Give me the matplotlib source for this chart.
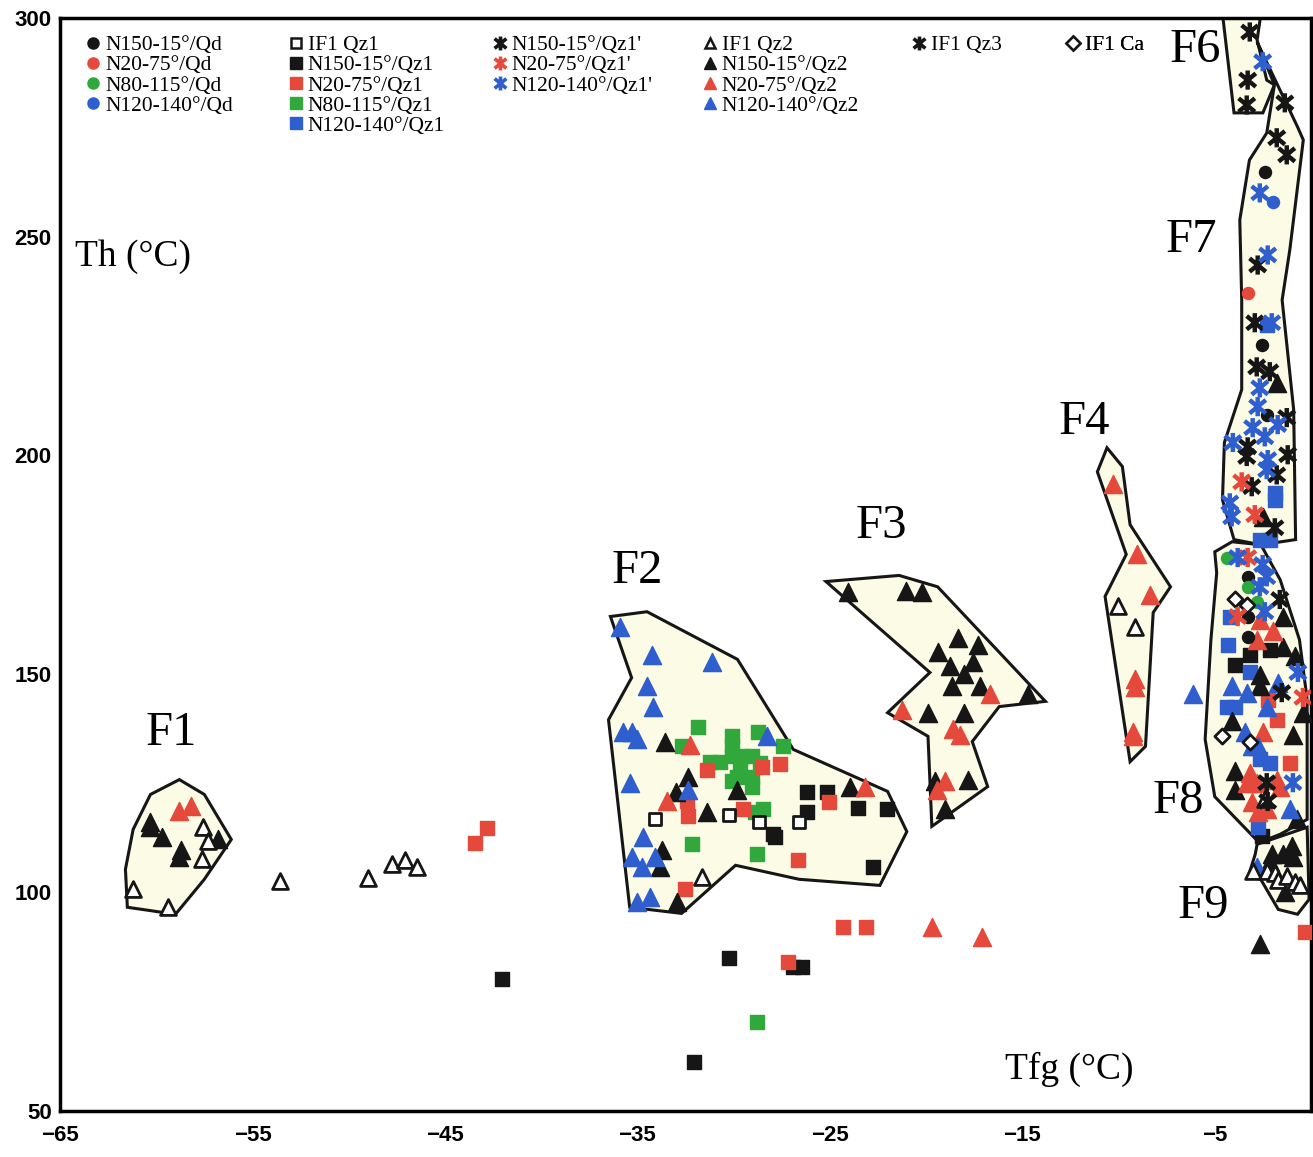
import matplotlib
matplotlib.use("Agg")
import matplotlib.pyplot as plt
from matplotlib.path import Path
from matplotlib.patches import Polygon
from matplotlib.lines import Line2D

BLACK = "#161616"
RED = "#e5493c"
GREEN = "#31a83b"
BLUE = "#2f5ecf"
CREAM = "#fcfbe6"

# field outlines (Tfg, Th)
f1_outline = [(-58.8, 125.8), (-57.5, 122.4), (-56.1, 112.1), (-57.5, 103.0), (-59.0, 95.0),
              (-61.5, 96.6), (-61.6, 105.3), (-61.2, 114.4), (-60.3, 122.4)]
f2_outline = [(-36.4, 163.1), (-34.5, 164.2), (-29.8, 153.3), (-26.9, 132.7), (-22.0, 123.1),
              (-21.0, 113.9), (-22.4, 101.6), (-26.6, 103.0), (-29.9, 106.2), (-32.7, 95.2),
              (-35.4, 96.6), (-36.5, 139.5), (-35.3, 149.1)]
f3_outline = [(-25.2, 171.1), (-21.4, 172.5), (-19.4, 169.9), (-13.8, 143.7), (-16.2, 142.5),
              (-17.6, 134.5), (-16.8, 124.2), (-19.7, 115.1), (-19.9, 135.7), (-22.0, 141.1),
              (-19.8, 150.3)]
f4_outline = [(-10.6, 201.7), (-9.8, 197.4), (-9.4, 184.1), (-7.3, 169.9), (-8.2, 164.0),
              (-8.6, 133.4), (-9.4, 129.9), (-10.7, 167.7), (-9.6, 177.3), (-11.1, 196.2)]
f6_outline = [(-4.6, 301.0), (-2.6, 301.0), (-2.8, 295.0), (-2.3, 285.8), (-1.9, 284.7),
              (-2.5, 278.3), (-4.0, 278.3)]
f7_outline = [(-2.8, 294.5), (-0.7, 275.1), (-0.4, 272.1), (-1.1, 247.0), (-1.5, 235.5),
              (-0.9, 210.4), (-0.8, 180.7), (-2.6, 179.5), (-4.0, 180.7), (-4.6, 189.8),
              (-4.5, 202.9), (-3.6, 215.0), (-3.6, 235.5), (-3.7, 253.8), (-3.2, 267.5),
              (-2.3, 273.7), (-1.9, 284.7)]
f8_outline = [(-5.0, 177.9), (-4.1, 180.2), (-2.6, 179.5), (-1.6, 171.5), (-0.6, 157.8),
              (-0.2, 144.1), (-0.2, 116.7), (-1.6, 113.3), (-2.7, 111.4), (-5.0, 121.9),
              (-5.5, 135.0), (-5.2, 157.8), (-4.9, 173.1)]
f9_outline = [(-2.8, 111.0), (-0.2, 114.9), (-0.1, 98.4), (-0.7, 95.0), (-1.7, 96.1),
              (-2.6, 102.9), (-3.2, 104.5), (-2.9, 108.7)]

field_names = ["F1", "F2", "F3", "F4", "F6", "F7", "F8", "F9"]
field_label_pos = [(-59.2, 136.5), (-35.0, 173.4), (-22.3, 183.7), (-11.8, 207.7),
                   (-6.0, 292.7), (-6.2, 249.3), (-6.9, 120.8), (-5.6, 96.8)]

# Qd (circles)
qd_black = [(-2.4, 264.8), (-2.56, 225.3), (-2.3, 209.3), (-3.29, 172.2), (-3.29, 162.9), (-3.29, 158.5)]
qd_red = [(-3.29, 237.1)]
qd_green = [(-4.38, 176.6), (-3.29, 169.9), (-2.82, 166.5)]
qd_blue = [(-1.99, 257.9)]

# Qz1 (squares)
qz1_open = [(-34.09, 116.7), (-30.25, 117.8), (-28.69, 116.0), (-26.61, 116.0)]
qz1_black = [(-26.19, 122.9), (-25.16, 122.9), (-26.19, 118.5), (-23.55, 119.4), (-22.04, 119.0),
             (-27.96, 113.3), (-27.86, 112.6), (-22.77, 105.7), (-42.04, 80.1), (-30.25, 85.1),
             (-26.92, 82.9), (-26.45, 82.9), (-32.06, 61.1), (-3.18, 154.4), (-3.96, 152.1),
             (-2.56, 112.8), (-2.14, 155.5)]
qz1_red = [(-31.39, 128.1), (-28.53, 128.6), (-27.6, 129.3), (-32.43, 120.8), (-32.38, 117.4),
           (-29.52, 119.0), (-25.05, 120.6), (-26.66, 107.5), (-32.53, 100.7), (-43.44, 111.4),
           (-42.82, 114.7), (-24.32, 92.2), (-23.13, 92.2), (-27.18, 84.0), (-2.25, 144.1),
           (-1.78, 139.5), (-1.1, 129.7), (-0.32, 90.9)]
qz1_green = [(-31.86, 137.9), (-28.74, 136.6), (-27.44, 133.6), (-32.69, 133.4), (-30.09, 135.7),
             (-30.09, 133.4), (-30.09, 131.1), (-31.23, 129.9), (-30.71, 129.9), (-29.57, 131.1),
             (-29.05, 131.1), (-28.64, 129.7), (-29.68, 128.8), (-29.83, 126.5), (-29.05, 126.5),
             (-29.05, 124.2), (-30.09, 125.4), (-28.9, 118.3), (-28.48, 119.0), (-32.17, 111.0),
             (-28.79, 108.7), (-28.79, 70.3)]
qz1_blue = [(-2.3, 229.8), (-1.88, 191.4), (-1.88, 189.8), (-2.66, 180.7), (-2.14, 180.7),
            (-4.22, 163.1), (-4.32, 156.7), (-3.18, 150.3), (-4.38, 142.5), (-3.96, 142.3),
            (-2.66, 130.4), (-2.14, 129.7), (-2.77, 114.9)]

# Qz1' (asterisks)
qz1p_black = [(-1.36, 280.6), (-1.78, 272.6), (-1.26, 268.7), (-2.77, 243.5), (-2.92, 230.3),
              (-2.82, 220.2), (-2.14, 219.1), (-1.26, 208.6), (-3.29, 201.9), (-3.34, 199.7),
              (-1.21, 200.1), (-1.78, 195.5), (-3.08, 192.8), (-1.88, 183.4), (-1.62, 167.0),
              (-1.52, 145.7), (-2.3, 125.1), (-2.25, 120.8)]
qz1p_red = [(-3.6, 193.9), (-2.92, 186.4), (-3.29, 176.6), (-3.81, 163.1), (-0.42, 144.6)]
qz1p_blue = [(-2.51, 290.0), (-2.66, 260.0), (-2.25, 245.8), (-2.04, 230.3), (-2.66, 215.4),
             (-2.77, 211.1), (-1.73, 207.0), (-3.03, 206.3), (-2.4, 204.2), (-4.06, 202.9),
             (-2.25, 199.0), (-2.3, 196.7), (-4.22, 189.1), (-4.12, 185.9), (-3.81, 176.6),
             (-2.51, 175.0), (-2.3, 172.2), (-2.66, 169.9), (-2.4, 164.2), (-0.68, 150.3),
             (-0.94, 125.1)]

# Qz2 (triangles)
qz2_open = [(-57.57, 114.9), (-57.31, 111.7), (-57.62, 107.6), (-61.21, 100.7), (-59.39, 96.6),
            (-53.57, 102.5), (-49.0, 103.4), (-47.75, 106.4), (-47.08, 107.5), (-46.45, 105.7),
            (-31.65, 103.6), (-10.04, 165.4), (-9.16, 160.6), (-2.4, 121.3), (-3.03, 104.8),
            (-2.3, 104.8), (-1.88, 104.5), (-1.73, 102.9), (-1.26, 103.7), (-0.84, 102.3),
            (-0.58, 101.8)]
qz2_black = [(-60.3, 116.0), (-60.3, 114.9), (-59.7, 112.6), (-56.8, 112.1), (-58.7, 109.8),
             (-58.8, 108.2), (-33.57, 134.3), (-32.38, 126.5), (-33.0, 122.9), (-31.39, 118.5),
             (-29.83, 123.5), (-23.96, 124.0), (-33.73, 109.8), (-33.83, 105.9), (-32.95, 97.7),
             (-24.06, 168.6), (-21.05, 169.0), (-20.22, 168.6), (-18.35, 158.3), (-17.31, 156.7),
             (-19.39, 154.9), (-17.57, 152.8), (-18.77, 151.7), (-18.04, 149.9), (-18.66, 147.1),
             (-17.21, 147.1), (-14.71, 145.3), (-19.91, 141.1), (-18.04, 141.1), (-17.83, 125.8),
             (-19.55, 125.4), (-19.03, 119.0), (-1.78, 216.6), (-2.51, 185.9), (-2.66, 149.8),
             (-2.66, 147.1), (-4.12, 139.1), (-3.96, 127.7), (-3.96, 123.5), (-2.04, 108.7),
             (-1.47, 108.7), (-0.94, 108.2), (-2.14, 106.9), (-0.99, 110.5), (-1.36, 100.0),
             (-2.66, 88.1), (-1.47, 163.1), (-1.47, 156.2), (-0.84, 154.1), (-0.42, 141.1),
             (-0.94, 136.1), (-0.74, 116.7)]
qz2_red = [(-58.8, 118.6), (-58.2, 119.7), (-32.27, 133.8), (-33.47, 120.8), (-23.18, 124.0),
           (-21.26, 141.8), (-16.69, 145.3), (-18.61, 137.3), (-18.25, 136.1), (-19.03, 125.4),
           (-19.44, 123.5), (-10.3, 193.3), (-9.05, 177.3), (-8.38, 168.1), (-9.16, 148.7),
           (-9.16, 146.9), (-9.26, 136.6), (-9.26, 135.7), (-19.7, 92.0), (-17.1, 89.9),
           (-2.66, 162.4), (-1.99, 159.7), (-2.82, 157.8), (-2.51, 136.6), (-3.18, 127.4),
           (-3.34, 125.1), (-2.82, 125.1), (-1.78, 125.8), (-3.08, 120.6), (-2.3, 119.0),
           (-1.62, 124.2), (-2.77, 118.3)]
qz2_blue = [(-35.91, 160.6), (-34.25, 154.4), (-31.13, 152.8), (-34.51, 147.1), (-34.19, 142.5),
            (-35.75, 136.6), (-35.29, 136.6), (-35.03, 135.0), (-35.39, 125.1), (-28.27, 135.7),
            (-32.38, 123.5), (-34.71, 112.6), (-35.29, 108.0), (-34.77, 105.9), (-34.09, 108.0),
            (-35.03, 97.9), (-34.35, 98.9), (-6.14, 145.3), (-4.12, 147.1), (-3.34, 145.7),
            (-1.73, 148.0), (-2.3, 142.3), (-3.44, 136.6), (-2.77, 133.4), (-3.08, 133.4),
            (-1.1, 119.0), (-2.82, 105.9)]

# Qz3 (asterisks) and Ca (diamonds)
qz3 = [(-3.18, 296.8), (-3.29, 285.8), (-3.34, 280.1)]
ca_open = [(-3.96, 167.0), (-3.34, 165.8), (-4.64, 135.7), (-3.18, 134.3)]

# six-armed star like the original symbol
star = Path([(0, -1), (0, 1), (-0.85, -0.7), (0.85, 0.7), (-0.85, 0.7), (0.85, -0.7)],
            [Path.MOVETO, Path.LINETO, Path.MOVETO, Path.LINETO, Path.MOVETO, Path.LINETO])

fig = plt.figure(figsize=(13.13, 11.57), dpi=100)
ax = fig.add_axes([60 / 1313, 46 / 1157, 1251 / 1313, 1093 / 1157])
ax.set_xlim(-65, 0)
ax.set_ylim(50, 300)

for outline in [f1_outline, f2_outline, f3_outline, f4_outline,
                f6_outline, f7_outline, f8_outline, f9_outline]:
    ax.add_patch(Polygon(outline, closed=True, facecolor=CREAM, edgecolor=BLACK,
                         linewidth=2.2, zorder=1))


def plot_pts(pts, marker, color, size, open_=False, lw=1.0):
    xs = [p[0] for p in pts]
    ys = [p[1] for p in pts]
    if marker is star:
        ax.scatter(xs, ys, marker=star, s=size, facecolors="none", edgecolors=color,
                   linewidths=3.2, zorder=4)
    elif open_:
        ax.scatter(xs, ys, marker=marker, s=size, facecolors="white", edgecolors=color,
                   linewidths=2.0, zorder=3)
    else:
        ax.scatter(xs, ys, marker=marker, s=size, c=color, edgecolors=color,
                   linewidths=lw, zorder=3)


plot_pts(qz1_green, "s", GREEN, 115)
plot_pts(qz1_black, "s", BLACK, 105)
plot_pts(qz1_red, "s", RED, 105)
plot_pts(qz1_blue, "s", BLUE, 105)
plot_pts(qz1_open, "s", BLACK, 85, open_=True)
plot_pts(qz2_black, "^", BLACK, 170)
plot_pts(qz2_red, "^", RED, 170)
plot_pts(qz2_blue, "^", BLUE, 170)
plot_pts(qz2_open, "^", BLACK, 130, open_=True)
plot_pts(qd_black, "o", BLACK, 75)
plot_pts(qd_red, "o", RED, 75)
plot_pts(qd_green, "o", GREEN, 75)
plot_pts(qd_blue, "o", BLUE, 75)
plot_pts(ca_open, "D", BLACK, 60, open_=True)
plot_pts(qz1p_black, star, BLACK, 190)
plot_pts(qz1p_red, star, RED, 190)
plot_pts(qz1p_blue, star, BLUE, 190)
plot_pts(qz3, star, BLACK, 190)

serif = ["Liberation Serif", "DejaVu Serif"]
for name, (lx, ly) in zip(field_names, field_label_pos):
    ax.text(lx, ly, name, fontsize=35, family=serif, ha="center", va="center", zorder=5)

ax.text(-64.2, 245.5, "Th (°C)", fontsize=27, family=serif, ha="left", va="center")
ax.text(-15.9, 59.5, "Tfg (°C)", fontsize=27, family=serif, ha="left", va="center")

# legend, one block per column
def h(marker, color, open_=False):
    if marker is star:
        return Line2D([], [], ls="none", marker=star, ms=10, mec=color, mfc="none", mew=2.6)
    if open_:
        return Line2D([], [], ls="none", marker=marker, ms=7, mec=color, mfc="white", mew=1.8)
    return Line2D([], [], ls="none", marker=marker, ms=8, mec=color, mfc=color)


legend_cols = [
    ([h("o", BLACK), h("o", RED), h("o", GREEN), h("o", BLUE)],
     ["N150-15°/Qd", "N20-75°/Qd", "N80-115°/Qd", "N120-140°/Qd"], 0.011),
    ([h("s", BLACK, True), h("s", BLACK), h("s", RED), h("s", GREEN), h("s", BLUE)],
     ["IF1 Qz1", "N150-15°/Qz1", "N20-75°/Qz1", "N80-115°/Qz1", "N120-140°/Qz1"], 0.173),
    ([h(star, BLACK), h(star, RED), h(star, BLUE)],
     ["N150-15°/Qz1'", "N20-75°/Qz1'", "N120-140°/Qz1'"], 0.336),
    ([h("^", BLACK, True), h("^", BLACK), h("^", RED), h("^", BLUE)],
     ["IF1 Qz2", "N150-15°/Qz2", "N20-75°/Qz2", "N120-140°/Qz2"], 0.504),
    ([h(star, BLACK)], ["IF1 Qz3"], 0.671),
    ([h("D", BLACK, True)], ["IF1 Ca"], 0.794),
]
for handles, labels, x0 in legend_cols:
    leg = ax.legend(handles, labels, loc="upper left", bbox_to_anchor=(x0, 0.994),
                    frameon=False, borderpad=0, handlelength=0.8, handletextpad=0.15,
                    labelspacing=0.0, prop={"family": serif, "size": 15.5})
    ax.add_artist(leg)

ax.set_xticks(range(-65, 0, 10))
ax.set_yticks(range(50, 301, 50))
ax.tick_params(length=0, pad=10, labelsize=16)
for lbl in ax.get_xticklabels() + ax.get_yticklabels():
    lbl.set_fontweight("bold")
    lbl.set_family("Liberation Sans")
ax.tick_params(axis="y", pad=6)
for sp in ax.spines.values():
    sp.set_linewidth(2.5)

fig.savefig("out.png", dpi=100)
